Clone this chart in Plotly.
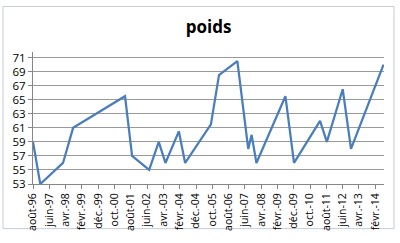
import plotly.graph_objects as go
from datetime import date

dates = ["1996-08-01", "1996-12-15", "1998-02-13", "1998-08-20", "2001-04-15",
         "2001-08-25", "2002-07-10", "2003-01-05", "2003-05-10", "2004-01-15",
         "2004-05-12", "2005-09-05", "2006-02-03", "2007-01-12", "2007-08-03",
         "2007-10-05", "2008-01-03", "2009-06-27", "2009-12-05", "2011-04-05",
         "2011-08-10", "2012-06-01", "2012-11-03", "2014-07-03"]
poids = [59, 53, 56, 61, 65.5, 57, 55, 59, 56, 60.5, 56, 61.5, 68.5, 70.5,
         58, 60, 56, 65.5, 56, 62, 59, 66.5, 58, 70]

mois = ["janv.", "févr.", "mars", "avr.", "mai", "juin", "juil.", "août",
        "sept.", "oct.", "nov.", "déc."]

tick_vals = []
tick_text = []
y, m = 1996, 8
while (y, m) <= (2014, 2):
    tick_vals.append(date(y, m, 1).isoformat())
    tick_text.append(f"{mois[m-1]}-{y % 100:02d}")
    m += 10
    while m > 12:
        m -= 12
        y += 1

y_ticks = list(range(53, 72, 2))

fig = go.Figure()
fig.add_trace(go.Scatter(x=dates, y=poids, mode="lines",
                         line=dict(color="#4A7EBB", width=2.25)))

L, R, T, B = 33, 16, 52, 52
W, H = 400, 243
pw, ph = W - L - R, H - T - B

def px(xp):
    return (xp - L) / pw

def py(yp):
    return (H - B - yp) / ph

fig.add_shape(type="rect", xref="paper", yref="paper",
              x0=px(3), x1=px(394), y0=py(238), y1=py(4),
              line=dict(color="#c4ccd6", width=1), layer="below")

fig.update_layout(
    width=W, height=H,
    margin=dict(l=L, r=R, t=T, b=B),
    paper_bgcolor="white", plot_bgcolor="white",
    showlegend=False,
    font=dict(family="Open Sans", color="#000000"),
    title=dict(text="<b>poids</b>", x=0.5, xref="paper", xanchor="center",
               y=1 - 27 / H, yanchor="middle", font=dict(size=17, color="#000")),
    xaxis=dict(type="date", range=["1996-08-01", "2014-07-12"],
               tickvals=tick_vals, ticktext=tick_text, tickangle=-90,
               ticks="outside", ticklen=4, tickcolor="#868686",
               showline=True, linecolor="#868686", linewidth=1,
               showgrid=False, tickfont=dict(size=10.5), zeroline=False),
    yaxis=dict(range=[53, 71.8], tickvals=y_ticks, ticks="outside",
               ticklen=4, tickcolor="#868686",
               showline=True, linecolor="#868686", linewidth=1,
               showgrid=True, gridcolor="#9a9a9a", gridwidth=1,
               tickfont=dict(size=11.5), zeroline=False),
)

fig.write_html("out.html")
